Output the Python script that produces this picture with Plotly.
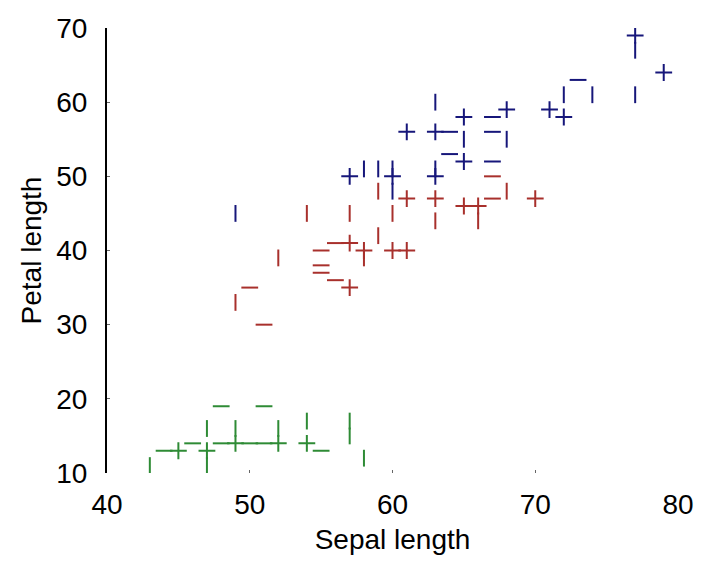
import plotly.graph_objects as go

# Sepal length (x) vs petal length (y), in mm
setosa_x = [43, 44, 45, 46, 47, 47, 47, 48, 48, 49, 49, 50, 51, 51, 52, 52, 54, 54, 55, 57, 57, 58]
setosa_y = [11, 13, 13, 14, 16, 13, 11, 19, 14, 14, 16, 14, 14, 19, 14, 16, 14, 17, 13, 15, 17, 12]
setosa_mk = ["|", "-", "+", "-", "|", "+", "|", "-", "-", "+", "|", "-", "-", "-", "+", "|", "+", "|", "-", "|", "|", "|"]

versicolor_x = [49, 50, 51, 52, 54, 55, 55, 55, 56, 57, 56, 57, 58, 58, 57, 59, 60, 61, 60, 59, 61, 63, 63, 65, 66, 66, 67, 67, 68, 70]
versicolor_y = [33, 35, 30, 39, 45, 40, 38, 37, 36, 35, 41, 41, 40, 39, 45, 42, 40, 40, 45, 48, 47, 47, 44, 46, 46, 44, 47, 50, 48, 47]
versicolor_mk = ["|", "-", "-", "|", "|", "-", "-", "-", "-", "+", "-", "+", "+", "|", "|", "|", "+", "+", "|", "|", "+", "+", "|", "+", "+", "|", "-", "-", "|", "+"]

virginica_x = [49, 57, 58, 59, 60, 60, 60, 61, 63, 64, 63, 63, 63, 64, 65, 65, 65, 67, 67, 67, 68, 68, 71, 72, 72, 73, 74, 77, 77, 77, 79]
virginica_y = [45, 50, 51, 51, 51, 50, 48, 56, 56, 56, 60, 50, 51, 53, 52, 55, 58, 58, 56, 52, 59, 55, 59, 58, 61, 63, 61, 69, 67, 61, 64]
virginica_mk = ["|", "+", "|", "|", "|", "+", "|", "+", "+", "-", "|", "+", "|", "-", "+", "|", "+", "-", "-", "-", "+", "|", "+", "+", "|", "-", "|", "+", "|", "|", "+"]

x_ticks = [40, 50, 60, 70, 80]
y_ticks = [10, 20, 30, 40, 50, 60, 70]

SYM = {"+": "cross-thin", "|": "line-ns", "-": "line-ew"}

fig = go.Figure()
for xs, ys, mk, col in [
    (setosa_x, setosa_y, setosa_mk, "#2e8b35"),
    (versicolor_x, versicolor_y, versicolor_mk, "#a8302c"),
    (virginica_x, virginica_y, virginica_mk, "#16167a"),
]:
    fig.add_trace(go.Scatter(
        x=xs, y=ys, mode="markers", showlegend=False,
        marker=dict(symbol=[SYM[m] for m in mk], size=12,
                    color=col, line=dict(color=col, width=2)),
    ))

font = dict(family="Liberation Sans, Arial, sans-serif", color="black")
fig.update_layout(
    width=705, height=561,
    margin=dict(l=107, r=27, t=28, b=88),
    plot_bgcolor="white", paper_bgcolor="white",
    font=font,
    xaxis=dict(range=[40, 80], tickvals=x_ticks, showgrid=False, zeroline=False,
               showline=False, ticks="inside", ticklen=3, tickcolor="#666",
               tickfont=dict(size=28), ticklabelstandoff=12,
               title=dict(text="Sepal length", font=dict(size=28), standoff=10)),
    yaxis=dict(range=[10, 70], tickvals=y_ticks, showgrid=False, zeroline=False,
               showline=True, linecolor="black", linewidth=2,
               ticks="inside", ticklen=3, tickcolor="#666",
               tickfont=dict(size=28), ticklabelstandoff=12,
               title=dict(text="Petal length", font=dict(size=28), standoff=6)),
)
fig.write_html("out.html")
